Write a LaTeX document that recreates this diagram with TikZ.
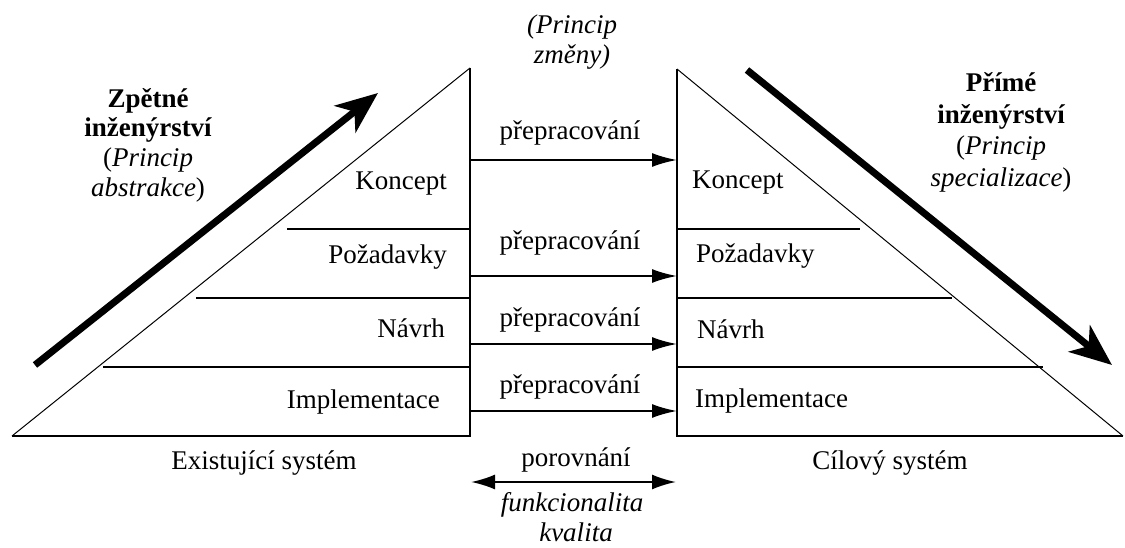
\documentclass[tikz,border=0pt]{standalone}
\usepackage{fontspec}
\setmainfont{Liberation Serif}
\usetikzlibrary{arrows.meta}
\begin{document}
\begin{tikzpicture}[x=1pt,y=-1pt,
  frame/.style={line width=2pt,line join=miter},
  slope/.style={line width=1pt},
  layer/.style={line width=2pt},
  flow/.style={line width=2pt,-{Latex[length=25pt,width=14pt]}},
  twoway/.style={line width=2pt,{Latex[length=24pt,width=15pt]}-{Latex[length=24pt,width=15pt]}},
  big/.style={line width=7pt,-{Stealth[length=42pt,width=34pt,inset=12pt]}},
  lbl/.style={font=\fontsize{27}{30}\selectfont,inner sep=0pt},
  ital/.style={lbl,font=\fontsize{27}{30}\selectfont\itshape},
  bld/.style={lbl,font=\fontsize{27}{30}\selectfont\bfseries},
]
\useasboundingbox (0,0) rectangle (1125,548);

% left triangle
\coordinate (L1) at (12,436);
\coordinate (L2) at (470,436);
\coordinate (L3) at (470,68);
\draw[frame] (L3) -- (L2) -- (L1);
\draw[slope] (L1) -- (L3);
\coordinate (la1) at (287,229); \coordinate (lb1) at (470,229);
\coordinate (la2) at (196,298); \coordinate (lb2) at (470,298);
\coordinate (la3) at (103,367); \coordinate (lb3) at (470,367);
\draw[layer] (la1) -- (lb1);
\draw[layer] (la2) -- (lb2);
\draw[layer] (la3) -- (lb3);

% right triangle
\coordinate (R1) at (677,69);
\coordinate (R2) at (677,436);
\coordinate (R3) at (1123,436);
\draw[frame] (R1) -- (R2) -- (R3);
\draw[slope] (R1) -- (R3);
\coordinate (ra1) at (677,229); \coordinate (rb1) at (860,229);
\coordinate (ra2) at (677,298); \coordinate (rb2) at (952,298);
\coordinate (ra3) at (677,367); \coordinate (rb3) at (1043,367);
\draw[layer] (ra1) -- (rb1);
\draw[layer] (ra2) -- (rb2);
\draw[layer] (ra3) -- (rb3);

% left labels
\node[lbl,anchor=base east] (lk) at (447,190) {Koncept};
\node[lbl,anchor=base east] (lp) at (447,264) {Požadavky};
\node[lbl,anchor=base east] (ln) at (445,337) {Návrh};
\node[lbl,anchor=base east] (li) at (440,408) {Implementace};
% right labels
\node[lbl,anchor=base west] (rk) at (692,189) {Koncept};
\node[lbl,anchor=base west] (rp) at (696,262) {Požadavky};
\node[lbl,anchor=base west] (rn) at (697,338) {Návrh};
\node[lbl,anchor=base west] (ri) at (695,407) {Implementace};

% transfer arrows
\coordinate (s1) at (470,160); \coordinate (e1) at (677,160);
\coordinate (s2) at (470,276); \coordinate (e2) at (677,276);
\coordinate (s3) at (470,344); \coordinate (e3) at (677,344);
\coordinate (s4) at (470,411); \coordinate (e4) at (677,411);
\draw[flow] (s1) -- (e1);
\draw[flow] (s2) -- (e2);
\draw[flow] (s3) -- (e3);
\draw[flow] (s4) -- (e4);
\node[lbl,anchor=base] (p1) at (570,140) {přepracování};
\node[lbl,anchor=base] (p2) at (570,250) {přepracování};
\node[lbl,anchor=base] (p3) at (570,326) {přepracování};
\node[lbl,anchor=base] (p4) at (570,393) {přepracování};

% top
\node[ital,anchor=base] (top1) at (572,34) {(Princip};
\node[ital,anchor=base] (top2) at (572,64) {změny)};

% big arrows
\coordinate (bl1) at (35,365); \coordinate (bl2) at (378,93);
\draw[big] (bl1) -- (bl2);
\coordinate (br1) at (747,70); \coordinate (br2) at (1112,365);
\draw[big] (br1) -- (br2);

% side text blocks
\node[bld,anchor=base] (zp1) at (148,108) {Zpětné};
\node[bld,anchor=base] (zp2) at (148,137) {inženýrství};
\node[lbl,anchor=base] (zp3) at (148,167) {(\textit{Princip}};
\node[lbl,anchor=base] (zp4) at (148,197) {\textit{abstrakce})};
\node[bld,anchor=base] (pr1) at (1001,92) {Přímé};
\node[bld,anchor=base] (pr2) at (1001,124) {inženýrství};
\node[lbl,anchor=base] (pr3) at (1001,155) {(\textit{Princip}};
\node[lbl,anchor=base] (pr4) at (1001,187) {\textit{specializace})};

% bottom
\node[lbl,anchor=base] (ex) at (264,469) {Existující systém};
\node[lbl,anchor=base] (ci) at (890,469) {Cílový systém};
\node[lbl,anchor=base] (po) at (576,466) {porovnání};
\coordinate (c1) at (471,482); \coordinate (c2) at (676,482);
\draw[twoway] (c1) -- (c2);
\node[ital,anchor=base] (fk) at (572,511) {funkcionalita};
\node[ital,anchor=base] (kv) at (576,541) {kvalita};
\end{tikzpicture}
\end{document}
